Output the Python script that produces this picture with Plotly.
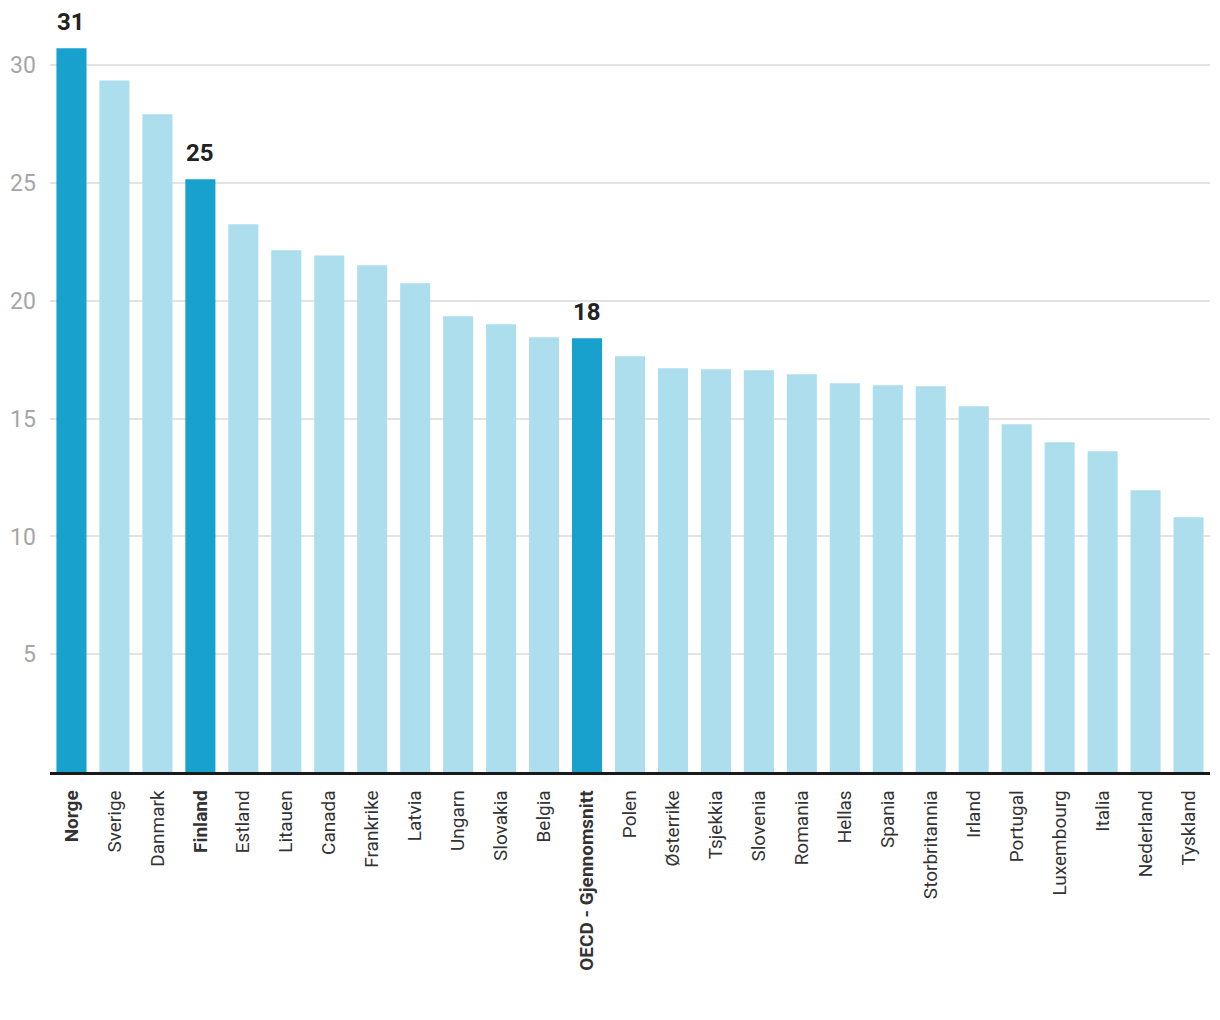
import plotly.graph_objects as go

countries = ["Norge", "Sverige", "Danmark", "Finland", "Estland", "Litauen", "Canada",
             "Frankrike", "Latvia", "Ungarn", "Slovakia", "Belgia", "OECD - Gjennomsnitt",
             "Polen", "Østerrike", "Tsjekkia", "Slovenia", "Romania", "Hellas", "Spania",
             "Storbritannia", "Irland", "Portugal", "Luxembourg", "Italia", "Nederland", "Tyskland"]
values = [30.72, 29.36, 27.92, 25.16, 23.25, 22.15, 21.93, 21.51, 20.75, 19.35, 19.01, 18.46,
          18.41, 17.65, 17.14, 17.10, 17.06, 16.89, 16.50, 16.42, 16.38, 15.53, 14.76, 14.0,
          13.62, 11.96, 10.82]
highlighted = ["Norge", "Finland", "OECD - Gjennomsnitt"]
labels = {"Norge": "31", "Finland": "25", "OECD - Gjennomsnitt": "18"}
y_ticks = [5, 10, 15, 20, 25, 30]

DARK = "#18a1cd"
LIGHT = "#addeed"

colors = [DARK if c in highlighted else LIGHT for c in countries]
ticktext = [f"<b>{c}</b>" if c in highlighted else c for c in countries]

fig = go.Figure(go.Bar(x=countries, y=values, marker_color=colors, marker_line_width=0,
                       hoverinfo="x+y"))

for c, v in zip(countries, values):
    if c in labels:
        fig.add_annotation(x=c, y=v, text=f"<b>{labels[c]}</b>", showarrow=False,
                           yanchor="bottom", yshift=10,
                           font=dict(size=24, color="#222222", family="Roboto"))

# page body has an 8px default margin, so the figure is sized/offset to compensate
fig.update_layout(
    width=1212, height=1012,
    margin=dict(l=41.5, r=9.5, t=22, b=248),
    plot_bgcolor="white", paper_bgcolor="white",
    bargap=0.3,
    showlegend=False,
    font=dict(family="Roboto", color="#333333"),
    xaxis=dict(
        tickmode="array", tickvals=countries, ticktext=ticktext,
        tickangle=-90, tickfont=dict(size=19, color="#333333", family="Roboto"),
        showline=True, linecolor="#1a1a1a", linewidth=2.5,
        ticks="outside", ticklen=8, tickcolor="rgba(0,0,0,0)",
        showgrid=False, fixedrange=True, automargin=False,
    ),
    yaxis=dict(
        range=[0, 31.5], tickvals=y_ticks,
        tickfont=dict(size=23, color="#a6a6a6", family="Roboto"),
        showgrid=True, gridcolor="#e3e3e3", gridwidth=1.5,
        zeroline=False, showline=False,
        ticks="outside", ticklen=8.5, tickcolor="rgba(0,0,0,0)",
        fixedrange=True, automargin=False,
    ),
)

fig.write_html("out.html")
